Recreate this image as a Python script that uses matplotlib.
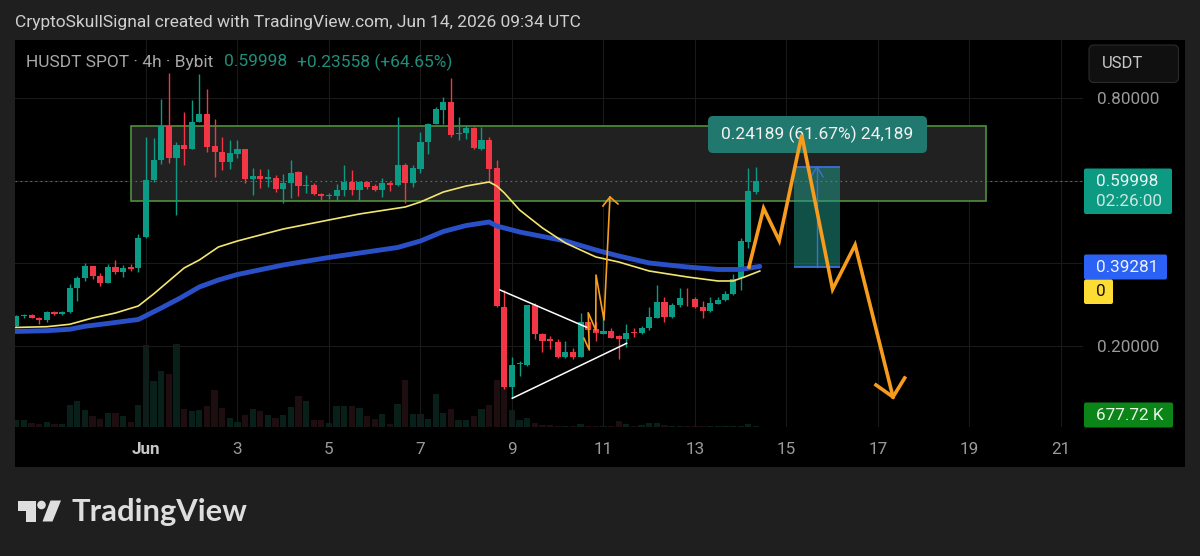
import matplotlib
matplotlib.use("Agg")
import matplotlib.pyplot as plt
from matplotlib.patches import Rectangle, FancyBboxPatch, Polygon, Circle
import numpy as np

plt.rcParams['font.family'] = ['Roboto', 'DejaVu Sans']

W, H = 1200, 556

# 4h candles, index 0 is Jun 1 00:00
candle_x = np.arange(-17, 81)
opens = [.2485, .2727, .2751, .2686, .2630, .2832, .2769, .2817, .3399, .3641,
         .3932, .3697, .3527, .3923, .3802, .3923, .3884, .4636, .6024, .6509,
         .7334, .6565, .6873, .6776, .7438, .7617, .6849, .6710, .6461, .6655,
         .6769, .6056, .6121, .6056, .6080, .5799, .5944, .6211, .5872, .5896,
         .5685, .5630, .5644, .5775, .5983, .5789, .5983, .5879, .5789, .5959,
         .5896, .6388, .5959, .6298, .6953, .7382, .7722, .7923, .7132, .7156,
         .7278, .6776, .6994, .6308, .2953, .1000, .1556, .1540, .2994, .2284,
         .2163, .2105, .1726, .1855, .1733, .2589, .2405, .2298, .2364, .2242,
         .2177, .2340, .2308, .2429, .2686, .3059, .2711, .2987, .3171, .3140,
         .2939, .2849, .3026, .3115, .3254, .3641, .4529, .5741]
highs = [.2751, .2783, .2768, .2703, .2856, .2856, .2856, .3496, .3697, .4019,
         .3939, .3777, .3988, .4085, .3964, .3988, .4708, .7074, .7050, .7988,
         .8611, .6938, .7665, .7964, .8594, .8223, .7496, .7059, .6994, .6994,
         .6769, .6308, .6284, .6284, .6145, .6163, .6509, .6243, .6145, .5944,
         .5717, .5717, .5920, .6380, .6267, .6000, .6000, .5928, .6066, .5993,
         .7559, .6429, .6388, .7196, .7413, .7787, .8029, .8497, .7544, .7358,
         .7317, .7317, .7059, .6509, .3358, .1726, .1637, .2994, .3035, .2308,
         .2243, .2163, .2121, .1952, .2808, .2589, .2589, .2711, .2429, .2267,
         .2526, .2429, .2492, .2938, .3479, .3181, .3035, .3399, .3399, .3181,
         .3091, .3181, .3195, .3341, .3745, .4611, .6308, .6347]
lows = [.2461, .2679, .2679, .2533, .2589, .2751, .2751, .2793, .3098, .3583,
        .3632, .3455, .3520, .3746, .3666, .3826, .3802, .4626, .5983, .6405,
        .6430, .5176, .6388, .6769, .7438, .6710, .6090, .6267, .6284, .6550,
        .5959, .5653, .5823, .5847, .5741, .5474, .5595, .5644, .5702, .5661,
        .5540, .5556, .5523, .5644, .5661, .5523, .5799, .5765, .5605, .5765,
        .5879, .5460, .5847, .6187, .6655, .7382, .7382, .7074, .6994, .7011,
        .6776, .6752, .5983, .2946, .0951, .0733, .1273, .1516, .2163, .1848,
        .1935, .1709, .1709, .1692, .1726, .2347, .2121, .2284, .2187, .1677,
        .1969, .2226, .2291, .2388, .2672, .2589, .2672, .2953, .2977, .2922,
        .2686, .2816, .3011, .3098, .3237, .3358, .4368, .5679]
closes = [.2727, .2758, .2686, .2630, .2832, .2769, .2817, .3399, .3641, .3932,
          .3697, .3527, .3923, .3802, .3898, .3860, .4626, .6024, .6509, .7334,
          .6551, .6873, .6776, .7438, .7617, .6832, .6710, .6461, .6672, .6769,
          .6056, .6121, .6056, .6090, .5799, .5944, .6201, .5879, .5903, .5685,
          .5637, .5661, .5782, .5983, .5782, .5983, .5862, .5782, .5959, .5896,
          .6388, .5959, .6322, .6953, .7382, .7738, .7923, .7115, .7171, .7278,
          .6793, .6994, .6291, .2970, .1000, .1532, .1581, .2994, .2284, .2129,
          .2129, .1726, .1848, .1726, .2589, .2388, .2308, .2364, .2201, .2177,
          .2308, .2308, .2444, .2696, .3059, .2711, .2987, .3171, .3157, .2939,
          .2849, .3035, .3115, .3261, .3624, .4553, .5758, .59998]
volumes = [3670, 3330, 1830, 1670, 2500, 1670, 1670, 10800, 12800, 8670,
           5330, 3830, 7000, 7170, 5330, 2500, 10800, 40800, 22800, 28000,
           26700, 41300, 9170, 8000, 8670, 10500, 18300, 9670, 4670, 2500,
           5830, 9170, 8000, 5830, 4670, 5830, 10000, 15300, 12800, 3330,
           3330, 2000, 10700, 10500, 10700, 9500, 5330, 3830, 6330, 1670,
           11700, 23300, 6670, 6670, 4170, 16700, 7000, 9170, 3330, 3330,
           5330, 9170, 10800, 23300, 23300, 8330, 3670, 4670, 2000, 1000,
           830, 670, 670, 670, 1670, 670, 670, 670, 670, 2830,
           1670, 670, 830, 2170, 2000, 830, 500, 500, 500, 500,
           500, 500, 500, 500, 500, 500, 1670, 678]

# moving averages, read at a few candles along the curve
yellow_x = [-17.2, -13, -10, -7, -4, -1, 1, 3, 5, 7, 9.5, 12, 18, 24, 28, 34, 36, 39, 42, 45, 46, 47, 49,
            52, 55, 59, 62, 66, 71, 75, 77, 78.5, 80.5]
yellow_y = [.2449, .2468, .2526, .2679, .2800, .2970, .3261, .3576, .3891, .4085, .4400, .4546, .4836, .5055, .5200,
            .5370, .5491, .5733, .5879, .5976, .5879, .5709, .5297, .4861, .4497, .4158, .4036, .3818,
            .3673, .3576, .3576, .3673, .3818]
blue_x = [-17.2, -13, -10, -8, -5, -1, 2, 4.5, 7, 9.5, 12, 18, 24, 33, 36, 39, 42, 45, 46, 49, 55, 59, 62, 66,
          71, 75, 78, 80.5]
blue_y = [.2352, .2371, .2405, .2478, .2546, .2643, .2921, .3164, .3431, .3600, .3733, .3964, .4146, .4388, .4546,
          .4776, .4921, .5006, .4909, .4764, .4546, .4327, .4182, .4012, .3915, .3855, .3855, .3930]

# drawings on the chart
zone_x = [-1.97, 110.16]
zone_y = [.5515, .7333]
measure_x = [85, 91]
measure_y = [.39224, .63413]
tri_top_x = [46.43, 57.8]
tri_top_y = [.3358, .2453]
tri_low_x = [48.04, 63.04]
tri_low_y = [.0733, .2066]
thin_x = [57.44, 58.14, 58.0, 58.98, 59.02, 60.07, 60.85]
thin_y = [.2187, .1903, .2807, .2388, .3721, .2630, .5612]
thin_head_x = [59.93, 60.85, 61.9]
thin_head_y = [.5394, .5612, .5443]
thick_x = [79.08, 81.0, 83.05, 86.0, 90.05, 93.0, 97.97]
thick_y = [.3915, .5338, .4553, .7115, .3375, .4449, .0764]
thick_head_x = [95.74, 97.97, 99.5]
thick_head_y = [.1055, .0764, .1224]

last_price = 0.59998
day_ticks = [0, 12, 24, 36, 48, 60, 72, 84, 96, 108, 120]
day_labels = ['Jun', '3', '5', '7', '9', '11', '13', '15', '17', '19', '21']
price_ticks = [0.2, 0.4, 0.6, 0.8]

GREEN = '#0b9a84'
RED = '#f23645'
opens, closes, highs, lows = map(np.array, (opens, closes, highs, lows))
up = closes >= opens

fig = plt.figure(figsize=(W / 100, H / 100), dpi=100, facecolor='#1f1f1f')


def axes_px(x0, y0, x1, y1):
    return fig.add_axes([x0 / W, 1 - y1 / H, (x1 - x0) / W, (y1 - y0) / H])


# black panel behind everything
bg = axes_px(0, 0, W, H)
bg.set_xlim(0, W)
bg.set_ylim(H, 0)
bg.axis('off')
bg.set_zorder(0)
bg.add_patch(Rectangle((15, 40), 1169.5, 427, fc='black', ec='none'))

# volume under the candles
vol = axes_px(15, 40, 1083, 427)
vol.set_zorder(1)
vol.patch.set_visible(False)
vol.axis('off')
vol.set_xlim(-17.18, 122.89)
vol.set_ylim(0, 193500)
vol_colors = ['#09201a' if u else '#1f0e10' for u in up]
vol.bar(candle_x, volumes, width=0.82, color=vol_colors)

ax = axes_px(15, 40, 1083, 427)
ax.set_zorder(2)
ax.patch.set_visible(False)
ax.set_xlim(-17.18, 122.89)
ax.set_ylim(0.0036, 0.9418)
for s in ax.spines.values():
    s.set_visible(False)
ax.set_xticks(day_ticks)
ax.set_xticklabels(day_labels)
ax.set_yticks(price_ticks)
ax.set_yticklabels(['0.20000', '', '', '0.80000'])
ax.yaxis.tick_right()
ax.tick_params(axis='both', length=0, labelsize=12.3, labelcolor='#9a9a9a')
ax.tick_params(axis='x', pad=11)
ax.tick_params(axis='y', pad=10)
ax.get_xticklabels()[0].set_color('#c8c8c8')
ax.get_xticklabels()[0].set_fontweight('bold')
ax.grid(True, color='#191919', lw=0.8)
ax.set_axisbelow(True)

ax.add_patch(Rectangle((zone_x[0], zone_y[0]), zone_x[1] - zone_x[0], zone_y[1] - zone_y[0],
                       fc='#212121', ec='#4f8f3f', lw=1.2, zorder=1))
ax.axhline(last_price, color='#3f7f74', lw=0.8, ls=(0, (1.5, 3)), zorder=1.5)

# measure box
ax.add_patch(Rectangle((measure_x[0], measure_y[0]), measure_x[1] - measure_x[0],
                       measure_y[1] - measure_y[0], fc='#22a08e', ec='none', alpha=0.5, zorder=2))
ax.hlines(measure_y, measure_x[0], measure_x[1], color='#3d6fd8', lw=1.3, zorder=2.1)
mid = (measure_x[0] + measure_x[1]) / 2
ax.plot([mid, mid], measure_y, color='#3d6fd8', lw=1, zorder=2.1)
ax.plot([mid - 0.8, mid, mid + 0.8], [measure_y[1] - 0.024, measure_y[1], measure_y[1] - 0.024],
        color='#3d6fd8', lw=1, zorder=2.1)

# candles
colors = [GREEN if u else RED for u in up]
ax.vlines(candle_x, lows, highs, color=colors, lw=1.0, zorder=3)
ax.bar(candle_x, np.abs(closes - opens), bottom=np.minimum(opens, closes), width=0.8,
       color=colors, zorder=3.1)

ax.plot(blue_x, blue_y, color='#2a50c8', lw=3.5, solid_capstyle='round', zorder=4)
ax.plot(yellow_x, yellow_y, color='#f3e56f', lw=1.2, zorder=4.1)

ax.plot(tri_top_x, tri_top_y, color='white', lw=1.1, zorder=5)
ax.plot(tri_low_x, tri_low_y, color='white', lw=1.1, zorder=5)
ax.plot(thin_x, thin_y, color='#f59e1f', lw=1.2, zorder=5)
ax.plot(thin_head_x, thin_head_y, color='#f59e1f', lw=1.2, zorder=5)

# overlay in pixels: labels and tags
fg = axes_px(0, 0, W, H)
fg.set_xlim(0, W)
fg.set_ylim(H, 0)
fg.axis('off')
fg.patch.set_visible(False)
fg.set_zorder(3)


def box(x0, y0, x1, y1, color, edge='none', r=2):
    fg.add_patch(FancyBboxPatch((x0 + r, y0 + r), x1 - x0 - 2 * r, y1 - y0 - 2 * r,
                                boxstyle=f'round,pad={r},rounding_size={r}',
                                fc=color, ec=edge, lw=0.8, mutation_aspect=1))


fg.text(15, 22.5, 'CryptoSkullSignal created with TradingView.com, Jun 14, 2026 09:34 UTC',
        color='#cfcfcf', fontsize=12.55, va='center')
fg.text(26, 62, 'HUSDT SPOT · 4h · Bybit', color='#a8a8a8', fontsize=12.5, va='center')
fg.text(224, 62, '0.59998', color='#1f8f7c', fontsize=12.5, va='center')
fg.text(297, 62, '+0.23558 (+64.65%)', color='#1f8f7c', fontsize=12.5, va='center')

box(708, 116, 927, 153, '#20786f', r=5)
fg.text(817.5, 134, '0.24189 (61.67%) 24,189', color='#f2f2f2', fontsize=12.5, ha='center', va='center')

box(1089, 45, 1178.5, 82.5, '#101010', edge='#2b2b2b', r=5)
fg.text(1102, 63.5, 'USDT', color='#c8c8c8', fontsize=12, va='center')

box(1084, 168.5, 1172, 214, '#0c9a83')
fg.text(1096, 181.5, '0.59998', color='#e8f5f2', fontsize=12.3, va='center')
fg.text(1096, 202, '02:26:00', color='#c8e8e2', fontsize=12.3, va='center')
box(1084, 254.5, 1167, 279.5, '#2b62f5')
fg.text(1096, 267, '0.39281', color='#eef2ff', fontsize=12.3, va='center')
box(1084, 279.5, 1113, 304, '#fddc34')
fg.text(1096, 292, '0', color='#111111', fontsize=12.3, va='center')
box(1084, 402.5, 1173, 427.5, '#0b8418')
fg.text(1096, 415, '677.72 K', color='#eaf6ea', fontsize=12.3, va='center')

# TradingView logo
logo = '#dedede'
fg.add_patch(Polygon([(17.5, 500.5), (35.5, 500.5), (35.5, 521.5), (26, 521.5), (26, 510.5), (17.5, 510.5)],
                     fc=logo, ec='none'))
fg.add_patch(Circle((41.5, 505), 4.3, fc=logo, ec='none'))
fg.add_patch(Polygon([(50.5, 500.5), (61, 500.5), (52.5, 521.5), (42.5, 521.5)], fc=logo, ec='none'))
fg.text(71.5, 512, 'TradingView', color=logo, fontsize=22.2, fontfamily='Lato', fontweight='bold', va='center')

# thick projection goes above the measure label
top = axes_px(15, 40, 1083, 427)
top.set_xlim(ax.get_xlim())
top.set_ylim(ax.get_ylim())
top.axis('off')
top.patch.set_visible(False)
top.set_zorder(4)
top.plot(thick_x, thick_y, color='#f79c1c', lw=2.6, solid_joinstyle='miter')
top.plot(thick_head_x, thick_head_y, color='#f79c1c', lw=2.6, solid_joinstyle='miter')

fig.savefig('out.png', dpi=100, facecolor=fig.get_facecolor())
